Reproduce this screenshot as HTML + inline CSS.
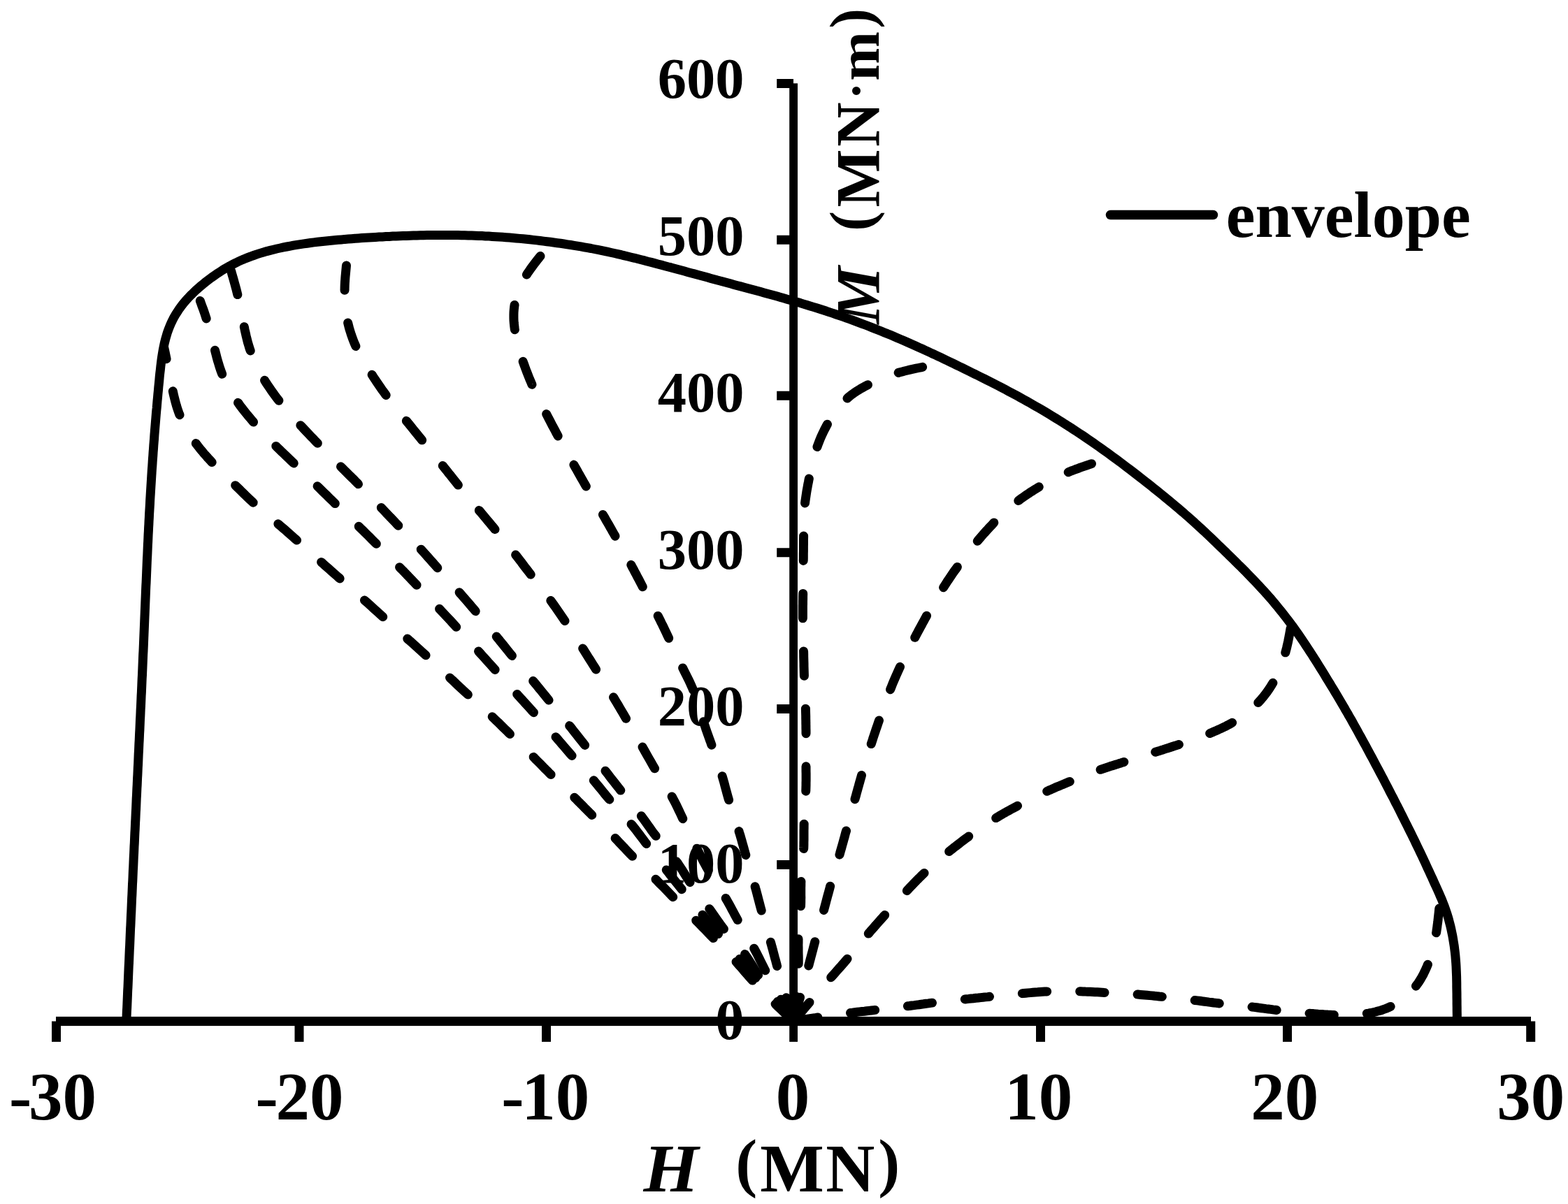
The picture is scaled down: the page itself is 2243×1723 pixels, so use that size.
<!DOCTYPE html>
<html lang="en"><head><meta charset="utf-8"><title>H-M envelope</title>
<style>
html,body{margin:0;padding:0;background:#fff;}
body{width:2243px;height:1723px;overflow:hidden;}
svg{display:block;}
</style></head><body>
<svg width="2243" height="1723" viewBox="0 0 2243 1723">
<rect width="2243" height="1723" fill="#fff"/>
<g font-family="'Liberation Serif', serif" font-weight="bold" fill="#000">
<text transform="translate(940.79 140.45) scale(1.0000 1.0120)" font-size="82.5">600</text>
<text transform="translate(940.79 364.93) scale(1.0000 1.0120)" font-size="82.5">500</text>
<text transform="translate(940.79 589.41) scale(1.0000 1.0120)" font-size="82.5">400</text>
<text transform="translate(940.79 813.89) scale(1.0000 1.0120)" font-size="82.5">300</text>
<text transform="translate(940.79 1038.37) scale(1.0000 1.0120)" font-size="82.5">200</text>
<text transform="translate(940.79 1262.85) scale(1.0000 1.0120)" font-size="82.5">100</text>
<text transform="translate(1023.29 1487.33) scale(1.0000 1.0120)" font-size="82.5">0</text>
<text x="13.05 40.99 89.49" y="1602.15" font-size="97">-30</text>
<text x="365.45 394.59 443.09" y="1602.15" font-size="97">-20</text>
<text x="717.35 746.29 794.79" y="1602.15" font-size="97">-10</text>
<text x="1109.79" y="1602.15" font-size="97">0</text>
<text x="1437.29" y="1602.15" font-size="97">10</text>
<text x="1789.19" y="1602.15" font-size="97">20</text>
<text x="2141.19" y="1602.15" font-size="97">30</text>
<text font-size="97"><tspan x="920.49" y="1705.40" font-style="italic" textLength="78.93" lengthAdjust="spacingAndGlyphs">H</tspan> <tspan x="1052.22" y="1694.50" font-size="93">(</tspan><tspan x="1087.34 1181.15" y="1705.40">MN</tspan><tspan x="1256.21" y="1694.50" font-size="93">)</tspan></text>
<text transform="translate(1257.1 0) rotate(-90)" font-size="88"><tspan x="-463.78" y="0" font-style="italic" textLength="82.30" lengthAdjust="spacingAndGlyphs">M</tspan> <tspan x="-330.84" y="-10.39" font-size="86.1">(</tspan><tspan x="-296.50 -209.98" y="0">MN</tspan><tspan x="-142.32" y="-6.94" font-size="74">·</tspan><tspan x="-115.72" y="0" font-size="85">m</tspan><tspan x="-40.83" y="-10.39" font-size="86.1">)</tspan></text>
<text x="1753.8" y="338.5" font-size="94">envelope</text>
</g>
<g fill="#000">
<rect x="80.00" y="1454.90" width="2110.00" height="13.20"/>
<rect x="1129.20" y="119.30" width="11.80" height="1371.60"/>
<rect x="74.00" y="1461.50" width="13.00" height="29.40"/>
<rect x="421.50" y="1461.50" width="13.00" height="29.40"/>
<rect x="775.00" y="1461.50" width="13.00" height="29.40"/>
<rect x="1482.00" y="1461.50" width="13.00" height="29.40"/>
<rect x="1835.00" y="1461.50" width="13.00" height="29.40"/>
<rect x="2183.20" y="1461.50" width="13.00" height="29.40"/>
<rect x="1111.20" y="113.00" width="23.80" height="13.00"/>
<rect x="1111.20" y="336.75" width="23.80" height="13.00"/>
<rect x="1111.20" y="559.75" width="23.80" height="13.00"/>
<rect x="1111.20" y="784.25" width="23.80" height="13.00"/>
<rect x="1111.20" y="1008.00" width="23.80" height="13.00"/>
<rect x="1111.20" y="1231.00" width="23.80" height="13.00"/>
</g>
<g fill="none" stroke="#000" stroke-width="13.00" stroke-linecap="round" stroke-linejoin="round">
<path stroke-dasharray="35.40 47.06" stroke-dashoffset="-0.31" d="M1135.0 1461.5 L1131.7 1458.4 L1128.5 1455.4 L1125.3 1452.3 L1122.0 1449.3 L1118.8 1446.2 L1115.5 1443.1 L1112.3 1440.0 L1109.1 1436.9 L1105.9 1433.8 L1102.8 1430.7 L1099.6 1427.6 L1096.4 1424.4 L1093.3 1421.2 L1090.2 1418.0 L1087.1 1414.8 L1084.1 1411.6 L1081.1 1408.3 L1078.1 1405.0 L1075.1 1401.7 L1072.2 1398.4 L1069.2 1395.0 L1066.3 1391.7 L1063.4 1388.3 L1060.5 1384.9 L1057.6 1381.6 L1054.6 1378.2 L1051.6 1374.9 L1048.6 1371.6 L1045.6 1368.4 L1042.5 1365.1 L1039.4 1361.9 L1036.3 1358.7 L1033.2 1355.6 L1030.1 1352.4 L1027.0 1349.2 L1023.8 1346.0 L1020.7 1342.9 L1017.6 1339.7 L1014.5 1336.5 L1011.4 1333.3 L1008.3 1330.1 L1005.2 1326.9 L1002.1 1323.7 L999.0 1320.5 L995.8 1317.3 L992.7 1314.1 L989.6 1311.0 L986.5 1307.8 L983.3 1304.6 L980.2 1301.5 L977.1 1298.3 L974.0 1295.1 L970.8 1291.9 L967.7 1288.8 L964.6 1285.6 L961.5 1282.4 L958.4 1279.2 L955.3 1276.0 L952.2 1272.8 L949.1 1269.6 L945.9 1266.4 L942.8 1263.3 L939.7 1260.1 L936.5 1256.9 L933.4 1253.8 L930.2 1250.7 L927.0 1247.5 L923.9 1244.4 L920.7 1241.3 L917.5 1238.2 L914.3 1235.1 L911.2 1231.9 L908.0 1228.8 L904.9 1225.6 L901.8 1222.4 L898.7 1219.2 L895.6 1216.0 L892.6 1212.7 L889.5 1209.5 L886.4 1206.3 L883.4 1203.0 L880.3 1199.8 L877.2 1196.6 L874.0 1193.5 L870.9 1190.3 L867.7 1187.2 L864.6 1184.0 L861.4 1180.9 L858.2 1177.8 L855.1 1174.6 L851.9 1171.5 L848.7 1168.4 L845.6 1165.2 L842.4 1162.1 L839.3 1158.9 L836.1 1155.8 L833.0 1152.6 L829.9 1149.4 L826.7 1146.3 L823.6 1143.1 L820.4 1140.0 L817.2 1136.9 L814.0 1133.8 L810.8 1130.7 L807.6 1127.6 L804.4 1124.5 L801.2 1121.4 L798.0 1118.3 L794.8 1115.2 L791.7 1112.1 L788.5 1108.9 L785.3 1105.8 L782.2 1102.6 L779.0 1099.5 L775.9 1096.3 L772.8 1093.1 L769.7 1090.0 L766.5 1086.8 L763.4 1083.6 L760.2 1080.5 L757.0 1077.4 L753.9 1074.2 L750.7 1071.1 L747.5 1068.0 L744.3 1064.9 L741.1 1061.8 L737.9 1058.7 L734.7 1055.6 L731.5 1052.5 L728.4 1049.4 L725.2 1046.2 L722.0 1043.1 L718.8 1040.0 L715.7 1036.9 L712.5 1033.7 L709.3 1030.7 L706.1 1027.6 L702.8 1024.5 L699.6 1021.5 L696.3 1018.5 L693.0 1015.5 L689.7 1012.5 L686.4 1009.5 L683.1 1006.5 L679.8 1003.5 L676.5 1000.5 L673.2 997.5 L669.9 994.5 L666.6 991.5 L663.3 988.5 L660.1 985.5 L656.8 982.4 L653.6 979.4 L650.3 976.3 L647.1 973.2 L643.8 970.2 L640.6 967.1 L637.4 964.1 L634.1 961.0 L630.9 958.0 L627.6 954.9 L624.3 951.9 L621.1 948.9 L617.8 945.9 L614.5 942.8 L611.2 939.8 L608.0 936.8 L604.7 933.8 L601.4 930.8 L598.1 927.8 L594.8 924.8 L591.5 921.8 L588.2 918.8 L584.8 915.9 L581.5 912.9 L578.2 909.9 L574.9 906.9 L571.6 904.0 L568.3 901.0 L564.9 898.0 L561.6 895.1 L558.3 892.1 L555.0 889.1 L551.7 886.2 L548.3 883.2 L545.0 880.2 L541.7 877.2 L538.4 874.2 L535.1 871.3 L531.8 868.3 L528.5 865.3 L525.2 862.3 L521.8 859.3 L518.5 856.4 L515.2 853.4 L511.8 850.5 L508.5 847.5 L505.2 844.6 L501.8 841.6 L498.5 838.7 L495.1 835.8 L491.8 832.8 L488.4 829.9 L485.1 827.0 L481.7 824.0 L478.4 821.1 L475.0 818.1 L471.7 815.2 L468.3 812.2 L465.0 809.3 L461.7 806.3 L458.3 803.4 L455.0 800.4 L451.7 797.4 L448.4 794.4 L445.1 791.5 L441.8 788.5 L438.5 785.5 L435.1 782.5 L431.8 779.6 L428.5 776.6 L425.2 773.6 L421.8 770.7 L418.5 767.7 L415.2 764.8 L411.8 761.8 L408.5 758.9 L405.1 756.0 L401.7 753.1 L398.3 750.2 L394.9 747.3 L391.5 744.4 L388.1 741.6 L384.7 738.7 L381.3 735.8 L377.9 733.0 L374.5 730.1 L371.1 727.2 L367.8 724.2 L364.5 721.3 L361.2 718.3 L357.9 715.2 L354.7 712.2 L351.5 709.1 L348.3 706.0 L345.1 702.9 L341.9 699.7 L338.7 696.6 L335.5 693.5 L332.3 690.4 L329.1 687.3 L325.9 684.2 L322.7 681.1 L319.5 678.0 L316.3 674.9 L313.2 671.7 L310.0 668.6 L306.9 665.4 L303.8 662.2 L300.8 658.9 L297.7 655.6 L294.8 652.3 L291.8 649.0 L289.0 645.5 L286.1 642.1 L283.4 638.6 L280.6 635.0 L278.0 631.4 L275.4 627.8 L272.9 624.1 L270.5 620.3 L268.2 616.5 L266.0 612.7 L263.9 608.8 L261.9 604.8 L260.0 600.8 L258.2 596.7 L256.5 592.6 L255.0 588.4 L253.6 584.2 L252.3 580.0 L251.1 575.7 L250.0 571.4 L248.9 567.0 L247.9 562.7 L247.0 558.3 L246.1 554.0 L245.2 549.6 L244.3 545.2 L243.4 540.8 L242.6 536.4 L241.8 532.1 L240.9 527.7 L240.1 523.3 L239.2 518.9 L238.3 514.6 L237.4 510.2 L236.5 505.8 L235.6 501.5 L234.8 498.0"/>
<path stroke-dasharray="35.40 47.13" stroke-dashoffset="0.20" d="M1135.0 1461.5 L1132.0 1458.1 L1129.1 1454.7 L1126.1 1451.3 L1123.2 1447.9 L1120.2 1444.5 L1117.3 1441.1 L1114.3 1437.7 L1111.4 1434.3 L1108.4 1431.0 L1105.5 1427.6 L1102.5 1424.2 L1099.6 1420.8 L1096.7 1417.4 L1093.7 1414.0 L1090.8 1410.6 L1087.8 1407.2 L1084.9 1403.8 L1082.0 1400.3 L1079.0 1396.9 L1076.1 1393.5 L1073.2 1390.1 L1070.2 1386.7 L1067.3 1383.3 L1064.4 1379.9 L1061.4 1376.5 L1058.5 1373.1 L1055.6 1369.6 L1052.7 1366.2 L1049.8 1362.8 L1046.9 1359.4 L1044.0 1355.9 L1041.1 1352.5 L1038.2 1349.1 L1035.3 1345.6 L1032.4 1342.2 L1029.5 1338.8 L1026.6 1335.3 L1023.7 1331.9 L1020.8 1328.4 L1017.9 1325.0 L1015.1 1321.5 L1012.2 1318.1 L1009.3 1314.6 L1006.5 1311.1 L1003.6 1307.7 L1000.8 1304.2 L997.9 1300.7 L995.1 1297.2 L992.2 1293.8 L989.4 1290.3 L986.6 1286.8 L983.7 1283.3 L980.9 1279.8 L978.1 1276.3 L975.3 1272.8 L972.5 1269.3 L969.7 1265.8 L966.9 1262.2 L964.1 1258.7 L961.3 1255.2 L958.6 1251.7 L955.8 1248.1 L953.0 1244.6 L950.3 1241.0 L947.5 1237.5 L944.8 1233.9 L942.0 1230.4 L939.3 1226.8 L936.6 1223.2 L933.8 1219.7 L931.1 1216.1 L928.4 1212.5 L925.7 1208.9 L923.0 1205.3 L920.3 1201.7 L917.6 1198.1 L914.9 1194.5 L912.2 1191.0 L909.5 1187.4 L906.7 1183.9 L903.9 1180.4 L901.0 1177.0 L898.1 1173.6 L895.1 1170.2 L892.1 1166.8 L889.1 1163.5 L886.1 1160.2 L883.1 1156.9 L880.1 1153.5 L877.1 1150.2 L874.1 1146.8 L871.2 1143.4 L868.3 1140.0 L865.4 1136.5 L862.6 1133.0 L859.8 1129.5 L856.9 1126.0 L854.1 1122.6 L851.2 1119.1 L848.3 1115.7 L845.4 1112.2 L842.5 1108.8 L839.5 1105.5 L836.5 1102.1 L833.5 1098.8 L830.5 1095.4 L827.5 1092.1 L824.5 1088.7 L821.6 1085.4 L818.6 1082.0 L815.6 1078.6 L812.7 1075.2 L809.7 1071.8 L806.8 1068.4 L803.9 1065.0 L801.0 1061.6 L798.1 1058.2 L795.1 1054.8 L792.2 1051.4 L789.2 1048.0 L786.2 1044.7 L783.2 1041.3 L780.2 1038.0 L777.2 1034.7 L774.2 1031.3 L771.1 1028.0 L768.1 1024.7 L765.1 1021.4 L762.0 1018.1 L759.0 1014.7 L756.0 1011.4 L753.0 1008.1 L749.9 1004.8 L746.9 1001.4 L743.9 998.1 L740.9 994.8 L737.9 991.5 L734.9 988.1 L731.9 984.8 L728.8 981.4 L725.8 978.1 L722.8 974.8 L719.8 971.4 L716.8 968.1 L713.8 964.7 L710.8 961.4 L707.8 958.0 L704.8 954.7 L701.8 951.3 L698.8 948.0 L695.8 944.7 L692.8 941.3 L689.8 938.0 L686.8 934.6 L683.8 931.3 L680.8 928.0 L677.8 924.6 L674.8 921.3 L671.7 918.0 L668.7 914.7 L665.7 911.3 L662.6 908.0 L659.6 904.7 L656.6 901.4 L653.5 898.1 L650.5 894.8 L647.4 891.5 L644.4 888.2 L641.3 884.9 L638.2 881.6 L635.2 878.4 L632.1 875.1 L629.0 871.8 L625.9 868.6 L622.8 865.3 L619.7 862.0 L616.6 858.8 L613.5 855.5 L610.4 852.3 L607.3 849.0 L604.2 845.8 L601.1 842.5 L598.0 839.3 L594.9 836.0 L591.8 832.8 L588.7 829.5 L585.6 826.3 L582.5 823.0 L579.4 819.8 L576.3 816.5 L573.1 813.3 L570.0 810.1 L566.9 806.9 L563.7 803.7 L560.6 800.5 L557.4 797.3 L554.2 794.1 L551.0 790.9 L547.9 787.8 L544.7 784.6 L541.5 781.4 L538.3 778.2 L535.1 775.1 L532.0 771.9 L528.8 768.7 L525.6 765.5 L522.4 762.4 L519.2 759.2 L516.0 756.1 L512.8 752.9 L509.6 749.8 L506.4 746.6 L503.2 743.5 L499.9 740.4 L496.7 737.3 L493.5 734.1 L490.2 731.0 L487.0 727.9 L483.8 724.8 L480.5 721.7 L477.3 718.5 L474.1 715.4 L470.9 712.3 L467.7 709.1 L464.4 706.0 L461.2 702.8 L458.0 699.7 L454.8 696.5 L451.6 693.4 L448.4 690.3 L445.2 687.1 L442.0 684.0 L438.8 680.8 L435.5 677.7 L432.3 674.6 L429.1 671.4 L425.9 668.3 L422.6 665.2 L419.4 662.1 L416.1 659.0 L412.9 655.9 L409.6 652.8 L406.4 649.7 L403.1 646.6 L399.9 643.4 L396.7 640.3 L393.5 637.1 L390.3 633.9 L387.2 630.7 L384.1 627.5 L381.0 624.3 L377.9 621.0 L374.8 617.7 L371.8 614.4 L368.8 611.0 L365.8 607.7 L362.8 604.3 L359.9 600.9 L357.0 597.4 L354.1 594.0 L351.3 590.5 L348.5 586.9 L345.7 583.4 L343.0 579.8 L340.4 576.1 L337.8 572.4 L335.3 568.7 L332.9 564.9 L330.5 561.1 L328.3 557.2 L326.1 553.3 L324.0 549.3 L322.0 545.3 L320.2 541.2 L318.4 537.1 L316.8 532.9 L315.3 528.7 L313.9 524.4 L312.6 520.2 L311.3 515.8 L310.1 511.5 L309.0 507.2 L307.9 502.8 L306.8 498.4 L305.7 494.1 L304.6 489.7 L303.5 485.3 L302.4 481.0 L301.2 476.6 L300.0 472.3 L298.8 467.9 L297.6 463.6 L296.3 459.3 L294.9 455.1 L293.5 450.8 L292.1 446.5 L290.6 442.3 L289.0 438.1 L287.5 433.9 L286.3 430.5"/>
<path stroke-dasharray="35.40 47.09" stroke-dashoffset="-0.67" d="M1135.0 1461.5 L1132.1 1458.0 L1129.2 1454.5 L1126.2 1451.0 L1123.3 1447.4 L1120.4 1443.9 L1117.6 1440.4 L1114.7 1436.8 L1111.9 1433.3 L1109.0 1429.7 L1106.3 1426.1 L1103.5 1422.5 L1100.8 1418.8 L1098.1 1415.2 L1095.4 1411.5 L1092.8 1407.8 L1090.2 1404.0 L1087.7 1400.3 L1085.2 1396.5 L1082.8 1392.6 L1080.4 1388.8 L1078.1 1384.9 L1075.7 1381.0 L1073.3 1377.2 L1070.9 1373.3 L1068.4 1369.6 L1065.8 1365.9 L1063.1 1362.2 L1060.3 1358.7 L1057.4 1355.2 L1054.5 1351.7 L1051.5 1348.3 L1048.5 1344.9 L1045.5 1341.5 L1042.5 1338.0 L1039.6 1334.6 L1036.7 1331.1 L1033.9 1327.5 L1031.2 1323.9 L1028.5 1320.2 L1025.9 1316.5 L1023.3 1312.7 L1020.7 1309.0 L1018.1 1305.3 L1015.5 1301.6 L1012.9 1297.9 L1010.2 1294.2 L1007.4 1290.6 L1004.7 1286.9 L1002.0 1283.3 L999.2 1279.7 L996.5 1276.0 L993.8 1272.4 L991.2 1268.7 L988.6 1264.9 L986.1 1261.2 L983.6 1257.4 L981.2 1253.5 L978.8 1249.7 L976.4 1245.8 L973.9 1242.0 L971.4 1238.2 L968.9 1234.5 L966.2 1230.8 L963.5 1227.2 L960.7 1223.7 L957.8 1220.1 L954.9 1216.7 L952.0 1213.2 L949.0 1209.7 L946.1 1206.2 L943.2 1202.7 L940.4 1199.2 L937.6 1195.6 L934.8 1192.0 L932.1 1188.3 L929.5 1184.6 L926.9 1180.9 L924.2 1177.2 L921.6 1173.5 L918.9 1169.8 L916.2 1166.2 L913.4 1162.6 L910.6 1159.0 L907.8 1155.5 L904.9 1151.9 L902.0 1148.4 L899.1 1144.9 L896.2 1141.4 L893.3 1137.9 L890.5 1134.4 L887.6 1130.8 L884.8 1127.3 L881.9 1123.7 L879.1 1120.1 L876.3 1116.5 L873.5 1112.9 L870.8 1109.3 L868.0 1105.8 L865.2 1102.2 L862.4 1098.6 L859.5 1095.0 L856.7 1091.5 L853.9 1087.9 L851.0 1084.4 L848.2 1080.8 L845.3 1077.3 L842.5 1073.7 L839.6 1070.1 L836.8 1066.6 L834.0 1063.0 L831.2 1059.5 L828.3 1055.9 L825.5 1052.3 L822.7 1048.7 L819.9 1045.2 L817.1 1041.6 L814.2 1038.0 L811.4 1034.5 L808.5 1030.9 L805.7 1027.4 L802.8 1023.8 L800.0 1020.3 L797.1 1016.8 L794.2 1013.2 L791.4 1009.7 L788.5 1006.2 L785.6 1002.7 L782.7 999.1 L779.9 995.6 L777.0 992.1 L774.1 988.5 L771.2 985.0 L768.4 981.5 L765.5 978.0 L762.6 974.5 L759.6 971.0 L756.7 967.5 L753.8 964.0 L750.9 960.5 L747.9 957.1 L745.0 953.6 L742.1 950.1 L739.2 946.6 L736.3 943.1 L733.4 939.6 L730.5 936.1 L727.6 932.5 L724.8 929.0 L721.9 925.4 L719.1 921.9 L716.2 918.4 L713.4 914.8 L710.5 911.3 L707.6 907.7 L704.8 904.2 L701.9 900.7 L699.0 897.2 L696.1 893.6 L693.2 890.1 L690.3 886.6 L687.4 883.1 L684.5 879.7 L681.5 876.2 L678.6 872.7 L675.6 869.2 L672.7 865.8 L669.7 862.3 L666.8 858.9 L663.8 855.4 L660.8 852.0 L657.8 848.6 L654.8 845.1 L651.8 841.7 L648.8 838.3 L645.8 834.9 L642.7 831.5 L639.7 828.1 L636.6 824.8 L633.6 821.4 L630.6 818.0 L627.6 814.6 L624.5 811.2 L621.5 807.8 L618.5 804.4 L615.5 801.0 L612.5 797.6 L609.4 794.2 L606.4 790.8 L603.3 787.4 L600.3 784.1 L597.2 780.7 L594.0 777.4 L590.9 774.1 L587.8 770.8 L584.6 767.5 L581.5 764.2 L578.3 761.0 L575.2 757.7 L572.0 754.4 L568.8 751.2 L565.7 747.9 L562.5 744.6 L559.4 741.3 L556.2 738.0 L553.1 734.7 L550.0 731.4 L546.8 728.1 L543.7 724.8 L540.5 721.5 L537.4 718.3 L534.2 715.0 L531.1 711.7 L527.9 708.4 L524.8 705.1 L521.6 701.9 L518.4 698.6 L515.2 695.4 L512.0 692.2 L508.8 688.9 L505.6 685.7 L502.3 682.5 L499.1 679.3 L495.9 676.1 L492.6 672.9 L489.4 669.7 L486.2 666.5 L482.9 663.3 L479.7 660.1 L476.5 656.9 L473.3 653.7 L470.1 650.4 L466.9 647.2 L463.7 643.9 L460.5 640.7 L457.3 637.4 L454.2 634.2 L451.0 630.9 L447.8 627.6 L444.7 624.4 L441.5 621.1 L438.4 617.8 L435.3 614.5 L432.2 611.1 L429.0 607.8 L425.9 604.5 L422.9 601.1 L419.8 597.8 L416.8 594.4 L413.7 591.0 L410.8 587.5 L407.8 584.1 L404.9 580.6 L402.0 577.1 L399.1 573.5 L396.3 569.9 L393.6 566.3 L390.9 562.6 L388.2 558.9 L385.7 555.2 L383.1 551.4 L380.6 547.6 L378.2 543.7 L375.9 539.8 L373.6 535.8 L371.4 531.8 L369.3 527.8 L367.2 523.7 L365.3 519.6 L363.4 515.5 L361.7 511.3 L360.0 507.1 L358.5 502.8 L357.0 498.5 L355.7 494.2 L354.4 489.8 L353.3 485.4 L352.2 481.0 L351.2 476.5 L350.2 472.1 L349.3 467.6 L348.4 463.2 L347.5 458.7 L346.6 454.2 L345.8 449.7 L344.9 445.3 L344.0 440.8 L343.1 436.3 L342.2 431.9 L341.2 427.4 L340.2 423.0 L339.1 418.6 L338.0 414.2 L336.8 409.8 L335.6 405.4 L334.4 401.0 L333.2 396.7 L331.9 392.3 L330.7 387.9 L329.5 383.5 L328.5 380.0"/>
<path stroke-dasharray="35.40 47.05" stroke-dashoffset="-0.65" d="M1135.0 1461.5 L1132.9 1457.8 L1130.8 1454.1 L1128.6 1450.5 L1126.5 1446.8 L1124.4 1443.1 L1122.3 1439.4 L1120.2 1435.7 L1118.1 1432.0 L1116.0 1428.3 L1113.9 1424.6 L1111.9 1420.9 L1109.8 1417.2 L1107.8 1413.5 L1105.8 1409.7 L1103.7 1406.0 L1101.7 1402.2 L1099.8 1398.5 L1097.8 1394.7 L1095.9 1391.0 L1093.9 1387.2 L1092.0 1383.4 L1090.1 1379.6 L1088.2 1375.8 L1086.3 1372.0 L1084.4 1368.2 L1082.5 1364.4 L1080.5 1360.7 L1078.5 1356.9 L1076.5 1353.2 L1074.4 1349.5 L1072.3 1345.8 L1070.1 1342.2 L1068.0 1338.5 L1065.8 1334.9 L1063.7 1331.2 L1061.5 1327.6 L1059.4 1323.9 L1057.2 1320.2 L1055.2 1316.5 L1053.1 1312.8 L1051.1 1309.1 L1049.1 1305.3 L1047.1 1301.6 L1045.1 1297.8 L1043.1 1294.1 L1041.0 1290.4 L1038.9 1286.7 L1036.8 1283.1 L1034.6 1279.4 L1032.4 1275.8 L1030.1 1272.2 L1027.8 1268.7 L1025.5 1265.1 L1023.2 1261.5 L1020.9 1258.0 L1018.7 1254.4 L1016.4 1250.8 L1014.2 1247.1 L1012.1 1243.5 L1010.0 1239.8 L1008.0 1236.0 L1006.0 1232.3 L1004.1 1228.5 L1002.1 1224.8 L1000.2 1221.0 L998.4 1217.1 L996.5 1213.3 L994.6 1209.5 L992.8 1205.7 L990.9 1201.9 L989.1 1198.0 L987.3 1194.2 L985.5 1190.3 L983.7 1186.5 L981.8 1182.7 L980.0 1178.8 L978.2 1175.0 L976.5 1171.1 L974.7 1167.3 L972.9 1163.4 L971.1 1159.6 L969.2 1155.7 L967.4 1151.9 L965.5 1148.1 L963.5 1144.4 L961.5 1140.6 L959.5 1136.9 L957.4 1133.3 L955.2 1129.6 L953.0 1126.0 L950.8 1122.4 L948.5 1118.8 L946.2 1115.2 L944.0 1111.6 L941.7 1108.0 L939.5 1104.4 L937.2 1100.8 L935.0 1097.2 L932.9 1093.5 L930.8 1089.8 L928.7 1086.1 L926.6 1082.5 L924.5 1078.8 L922.4 1075.0 L920.3 1071.3 L918.2 1067.6 L916.1 1063.9 L914.1 1060.3 L911.9 1056.6 L909.8 1052.9 L907.7 1049.2 L905.6 1045.5 L903.5 1041.9 L901.3 1038.2 L899.2 1034.5 L897.1 1030.8 L894.9 1027.2 L892.8 1023.5 L890.6 1019.8 L888.5 1016.2 L886.3 1012.5 L884.2 1008.9 L882.0 1005.2 L879.8 1001.6 L877.6 997.9 L875.4 994.3 L873.2 990.7 L871.0 987.1 L868.7 983.5 L866.4 979.9 L864.2 976.3 L861.9 972.7 L859.6 969.1 L857.4 965.5 L855.1 961.9 L852.8 958.3 L850.6 954.8 L848.3 951.2 L846.0 947.6 L843.8 944.0 L841.5 940.4 L839.3 936.8 L837.0 933.2 L834.7 929.6 L832.4 926.0 L830.2 922.4 L827.9 918.9 L825.6 915.3 L823.2 911.7 L820.9 908.2 L818.6 904.6 L816.3 901.1 L813.9 897.5 L811.6 894.0 L809.2 890.5 L806.9 886.9 L804.5 883.4 L802.1 879.9 L799.7 876.4 L797.3 872.9 L794.9 869.4 L792.4 865.9 L790.0 862.5 L787.5 859.0 L785.0 855.6 L782.4 852.2 L779.9 848.8 L777.3 845.5 L774.7 842.1 L772.1 838.7 L769.5 835.4 L766.9 832.0 L764.3 828.7 L761.7 825.3 L759.1 822.0 L756.5 818.6 L753.9 815.2 L751.3 811.9 L748.7 808.5 L746.2 805.1 L743.6 801.8 L741.0 798.4 L738.4 795.0 L735.7 791.7 L733.1 788.4 L730.5 785.0 L727.8 781.7 L725.2 778.4 L722.5 775.1 L719.8 771.8 L717.1 768.5 L714.4 765.3 L711.7 762.0 L709.0 758.7 L706.3 755.4 L703.6 752.2 L700.9 748.9 L698.2 745.7 L695.4 742.4 L692.7 739.1 L690.0 735.9 L687.3 732.6 L684.5 729.4 L681.8 726.1 L679.1 722.9 L676.4 719.6 L673.6 716.3 L670.9 713.1 L668.2 709.8 L665.5 706.5 L662.8 703.2 L660.1 699.9 L657.5 696.7 L654.8 693.4 L652.1 690.0 L649.5 686.7 L646.8 683.4 L644.2 680.1 L641.5 676.8 L638.9 673.4 L636.2 670.1 L633.6 666.8 L630.9 663.5 L628.3 660.2 L625.6 656.9 L622.9 653.6 L620.3 650.3 L617.6 647.0 L614.9 643.7 L612.2 640.4 L609.6 637.1 L606.9 633.8 L604.2 630.5 L601.5 627.2 L598.9 623.9 L596.2 620.6 L593.5 617.3 L590.8 614.0 L588.2 610.7 L585.5 607.4 L582.8 604.1 L580.1 600.8 L577.4 597.5 L574.8 594.2 L572.1 590.9 L569.4 587.6 L566.8 584.3 L564.1 581.0 L561.5 577.7 L558.9 574.3 L556.3 570.9 L553.7 567.6 L551.2 564.1 L548.7 560.7 L546.2 557.3 L543.8 553.8 L541.4 550.3 L539.0 546.8 L536.6 543.2 L534.3 539.7 L532.0 536.1 L529.7 532.5 L527.4 528.9 L525.1 525.3 L522.9 521.7 L520.7 518.0 L518.6 514.3 L516.5 510.6 L514.5 506.9 L512.6 503.1 L510.7 499.3 L508.9 495.5 L507.2 491.6 L505.6 487.6 L504.1 483.7 L502.7 479.7 L501.4 475.6 L500.1 471.6 L499.0 467.5 L498.0 463.4 L497.0 459.2 L496.2 455.1 L495.5 450.9 L494.9 446.7 L494.3 442.5 L493.9 438.3 L493.5 434.0 L493.3 429.8 L493.1 425.5 L493.0 421.3 L493.0 417.0 L493.1 412.8 L493.2 408.5 L493.4 404.3 L493.7 400.1 L494.0 395.8 L494.4 391.6 L494.8 387.3 L495.2 383.1 L495.5 379.7"/>
<path stroke-dasharray="35.40 47.11" stroke-dashoffset="0.08" d="M1135.0 1461.5 L1133.8 1457.7 L1132.7 1453.9 L1131.5 1450.1 L1130.4 1446.3 L1129.2 1442.6 L1128.0 1438.8 L1126.9 1435.0 L1125.7 1431.2 L1124.6 1427.4 L1123.5 1423.6 L1122.3 1419.8 L1121.2 1416.0 L1120.1 1412.2 L1119.0 1408.4 L1117.9 1404.6 L1116.8 1400.8 L1115.7 1397.0 L1114.6 1393.2 L1113.5 1389.3 L1112.5 1385.5 L1111.4 1381.7 L1110.4 1377.9 L1109.4 1374.0 L1108.3 1370.2 L1107.3 1366.4 L1106.3 1362.6 L1105.3 1358.7 L1104.2 1354.9 L1103.2 1351.1 L1102.1 1347.3 L1101.0 1343.5 L1099.9 1339.7 L1098.8 1335.9 L1097.6 1332.1 L1096.5 1328.3 L1095.4 1324.5 L1094.3 1320.7 L1093.1 1316.9 L1092.0 1313.1 L1090.9 1309.3 L1089.9 1305.5 L1088.8 1301.6 L1087.8 1297.8 L1086.8 1294.0 L1085.8 1290.1 L1084.8 1286.3 L1083.8 1282.5 L1082.8 1278.7 L1081.8 1274.8 L1080.7 1271.0 L1079.7 1267.2 L1078.6 1263.4 L1077.5 1259.6 L1076.4 1255.8 L1075.3 1252.0 L1074.1 1248.2 L1073.0 1244.4 L1071.8 1240.6 L1070.7 1236.8 L1069.6 1233.0 L1068.4 1229.2 L1067.3 1225.4 L1066.2 1221.6 L1065.1 1217.8 L1064.1 1214.0 L1063.0 1210.1 L1061.9 1206.3 L1060.9 1202.5 L1059.8 1198.7 L1058.7 1194.9 L1057.5 1191.1 L1056.4 1187.3 L1055.2 1183.6 L1053.9 1179.8 L1052.7 1176.0 L1051.4 1172.3 L1050.2 1168.5 L1048.9 1164.7 L1047.7 1161.0 L1046.5 1157.2 L1045.2 1153.5 L1044.1 1149.7 L1042.9 1145.9 L1041.8 1142.1 L1040.7 1138.3 L1039.7 1134.5 L1038.6 1130.6 L1037.6 1126.8 L1036.6 1123.0 L1035.6 1119.2 L1034.5 1115.4 L1033.4 1111.6 L1032.3 1107.8 L1031.1 1104.0 L1029.9 1100.2 L1028.7 1096.4 L1027.4 1092.7 L1026.1 1088.9 L1024.8 1085.2 L1023.5 1081.5 L1022.2 1077.7 L1020.8 1074.0 L1019.5 1070.3 L1018.1 1066.6 L1016.8 1062.8 L1015.4 1059.1 L1014.1 1055.4 L1012.7 1051.6 L1011.4 1047.9 L1010.1 1044.2 L1008.9 1040.4 L1007.6 1036.6 L1006.4 1032.9 L1005.2 1029.1 L1004.1 1025.3 L1002.9 1021.5 L1001.8 1017.7 L1000.6 1013.9 L999.5 1010.1 L998.3 1006.3 L997.1 1002.6 L995.8 998.8 L994.5 995.1 L993.2 991.4 L991.7 987.7 L990.2 984.1 L988.6 980.5 L987.0 976.9 L985.3 973.3 L983.5 969.8 L981.8 966.2 L980.0 962.7 L978.2 959.1 L976.5 955.6 L974.7 952.0 L973.0 948.5 L971.3 944.9 L969.6 941.3 L967.9 937.7 L966.3 934.1 L964.6 930.5 L963.0 926.9 L961.3 923.3 L959.6 919.7 L958.0 916.1 L956.3 912.5 L954.6 908.9 L952.9 905.3 L951.2 901.7 L949.5 898.2 L947.8 894.6 L946.0 891.1 L944.3 887.5 L942.5 884.0 L940.7 880.4 L938.9 876.9 L937.1 873.4 L935.3 869.9 L933.4 866.4 L931.6 862.9 L929.7 859.4 L927.9 855.9 L926.0 852.4 L924.1 848.9 L922.3 845.4 L920.4 841.9 L918.6 838.4 L916.7 834.8 L914.9 831.3 L913.1 827.8 L911.2 824.3 L909.4 820.8 L907.5 817.3 L905.7 813.8 L903.8 810.3 L902.0 806.8 L900.1 803.3 L898.2 799.8 L896.3 796.4 L894.4 792.9 L892.4 789.4 L890.5 786.0 L888.6 782.5 L886.6 779.1 L884.7 775.6 L882.7 772.2 L880.8 768.7 L878.9 765.2 L876.9 761.8 L875.0 758.3 L873.0 754.9 L871.1 751.4 L869.1 748.0 L867.1 744.6 L865.2 741.1 L863.2 737.7 L861.2 734.3 L859.2 730.9 L857.1 727.5 L855.1 724.0 L853.1 720.6 L851.1 717.2 L849.0 713.8 L847.0 710.4 L845.0 707.0 L842.9 703.6 L840.9 700.2 L838.9 696.8 L836.9 693.4 L834.9 689.9 L833.0 686.5 L831.0 683.1 L829.1 679.6 L827.1 676.2 L825.2 672.7 L823.2 669.2 L821.3 665.8 L819.4 662.3 L817.4 658.9 L815.5 655.4 L813.6 652.0 L811.6 648.5 L809.7 645.0 L807.8 641.6 L805.9 638.1 L804.0 634.6 L802.1 631.1 L800.2 627.7 L798.3 624.2 L796.4 620.7 L794.6 617.2 L792.7 613.7 L790.8 610.2 L789.0 606.7 L787.2 603.2 L785.3 599.7 L783.5 596.1 L781.7 592.6 L779.9 589.1 L778.0 585.6 L776.2 582.0 L774.4 578.5 L772.7 575.0 L770.9 571.4 L769.2 567.9 L767.4 564.3 L765.7 560.7 L764.1 557.1 L762.4 553.5 L760.8 549.9 L759.3 546.3 L757.7 542.6 L756.2 538.9 L754.8 535.2 L753.3 531.5 L751.9 527.8 L750.6 524.1 L749.2 520.4 L747.9 516.6 L746.6 512.8 L745.4 509.0 L744.2 505.2 L743.0 501.4 L742.0 497.6 L740.9 493.8 L739.9 489.9 L739.0 486.0 L738.2 482.1 L737.4 478.2 L736.8 474.3 L736.2 470.4 L735.7 466.4 L735.3 462.5 L735.0 458.5 L734.9 454.6 L734.9 450.6 L735.0 446.7 L735.3 442.8 L735.7 438.9 L736.3 435.0 L737.0 431.1 L738.0 427.3 L739.0 423.5 L740.3 419.8 L741.6 416.0 L743.1 412.4 L744.7 408.8 L746.4 405.2 L748.3 401.6 L750.2 398.2 L752.3 394.8 L754.4 391.4 L756.7 388.1 L759.0 384.8 L761.3 381.6 L763.7 378.4 L766.1 375.3 L768.6 372.1 L771.0 369.0 L773.0 366.5"/>
<path stroke-dasharray="35.40 47.07" stroke-dashoffset="-0.24" d="M1135.0 1461.5 L1135.4 1458.1 L1135.9 1454.7 L1136.3 1451.3 L1136.8 1447.9 L1137.2 1444.5 L1137.6 1441.1 L1138.0 1437.7 L1138.4 1434.3 L1138.8 1430.9 L1139.2 1427.5 L1139.5 1424.1 L1139.9 1420.6 L1140.2 1417.2 L1140.5 1413.8 L1140.8 1410.4 L1141.1 1407.0 L1141.3 1403.6 L1141.5 1400.2 L1141.7 1396.8 L1141.9 1393.4 L1142.0 1390.0 L1142.1 1386.6 L1142.2 1383.1 L1142.2 1379.7 L1142.2 1376.3 L1142.2 1372.9 L1142.2 1369.5 L1142.1 1366.1 L1142.0 1362.7 L1142.0 1359.2 L1142.0 1355.8 L1141.9 1352.4 L1142.0 1349.0 L1142.0 1345.6 L1142.1 1342.2 L1142.3 1338.8 L1142.5 1335.4 L1142.8 1332.0 L1143.0 1328.6 L1143.3 1325.2 L1143.6 1321.7 L1144.0 1318.3 L1144.3 1314.9 L1144.6 1311.5 L1144.9 1308.1 L1145.1 1304.7 L1145.3 1301.3 L1145.5 1297.9 L1145.6 1294.5 L1145.7 1291.1 L1145.7 1287.7 L1145.8 1284.3 L1145.7 1280.9 L1145.7 1277.4 L1145.7 1274.0 L1145.7 1270.6 L1145.8 1267.2 L1145.8 1263.8 L1146.0 1260.4 L1146.1 1257.0 L1146.4 1253.6 L1146.6 1250.2 L1146.9 1246.8 L1147.2 1243.4 L1147.5 1240.0 L1147.9 1236.6 L1148.2 1233.2 L1148.5 1229.8 L1148.8 1226.4 L1149.1 1223.0 L1149.4 1219.6 L1149.6 1216.2 L1149.8 1212.8 L1149.9 1209.3 L1149.9 1205.9 L1150.0 1202.5 L1150.0 1199.1 L1150.0 1195.7 L1150.0 1192.3 L1150.0 1188.9 L1150.1 1185.4 L1150.1 1182.0 L1150.2 1178.6 L1150.3 1175.2 L1150.5 1171.8 L1150.6 1168.4 L1150.8 1165.0 L1151.0 1161.5 L1151.3 1158.1 L1151.5 1154.7 L1151.7 1151.3 L1151.9 1147.9 L1152.2 1144.5 L1152.4 1141.1 L1152.5 1137.6 L1152.7 1134.2 L1152.8 1130.8 L1152.9 1127.4 L1153.0 1124.0 L1153.0 1120.6 L1153.1 1117.1 L1153.1 1113.7 L1153.1 1110.3 L1153.1 1106.9 L1153.0 1103.5 L1153.0 1100.0 L1153.0 1096.6 L1153.0 1093.2 L1153.0 1089.8 L1153.0 1086.4 L1153.0 1082.9 L1153.0 1079.5 L1153.0 1076.1 L1153.0 1072.7 L1153.0 1069.2 L1153.0 1065.8 L1153.0 1062.4 L1153.0 1059.0 L1153.0 1055.6 L1153.0 1052.1 L1153.0 1048.7 L1153.0 1045.3 L1152.9 1041.9 L1152.9 1038.5 L1152.8 1035.0 L1152.8 1031.6 L1152.7 1028.2 L1152.7 1024.8 L1152.6 1021.4 L1152.5 1017.9 L1152.4 1014.5 L1152.3 1011.1 L1152.1 1007.7 L1152.0 1004.3 L1151.8 1000.8 L1151.7 997.4 L1151.5 994.0 L1151.4 990.6 L1151.2 987.2 L1151.1 983.7 L1150.9 980.3 L1150.8 976.9 L1150.6 973.5 L1150.5 970.1 L1150.4 966.7 L1150.3 963.2 L1150.2 959.8 L1150.1 956.4 L1150.0 953.0 L1150.0 949.6 L1149.9 946.1 L1149.8 942.7 L1149.7 939.3 L1149.7 935.9 L1149.6 932.5 L1149.5 929.0 L1149.4 925.6 L1149.3 922.2 L1149.2 918.8 L1149.1 915.4 L1149.0 911.9 L1148.9 908.5 L1148.8 905.1 L1148.7 901.7 L1148.6 898.3 L1148.5 894.8 L1148.5 891.4 L1148.4 888.0 L1148.4 884.6 L1148.4 881.2 L1148.4 877.7 L1148.4 874.3 L1148.4 870.9 L1148.4 867.5 L1148.5 864.0 L1148.5 860.6 L1148.6 857.2 L1148.6 853.8 L1148.7 850.4 L1148.7 846.9 L1148.8 843.5 L1148.8 840.1 L1148.8 836.7 L1148.9 833.3 L1148.9 829.8 L1149.0 826.4 L1149.0 823.0 L1149.1 819.6 L1149.1 816.2 L1149.1 812.7 L1149.2 809.3 L1149.2 805.9 L1149.2 802.5 L1149.3 799.0 L1149.3 795.6 L1149.3 792.2 L1149.4 788.8 L1149.4 785.4 L1149.4 781.9 L1149.5 778.5 L1149.5 775.1 L1149.5 771.7 L1149.6 768.2 L1149.6 764.8 L1149.6 761.4 L1149.7 758.0 L1149.7 754.5 L1149.8 751.1 L1149.9 747.7 L1150.0 744.3 L1150.1 740.9 L1150.2 737.4 L1150.4 734.0 L1150.6 730.6 L1150.9 727.2 L1151.2 723.8 L1151.5 720.4 L1151.9 717.0 L1152.4 713.6 L1152.9 710.3 L1153.4 706.9 L1153.9 703.5 L1154.5 700.1 L1155.1 696.8 L1155.7 693.4 L1156.4 690.0 L1157.0 686.6 L1157.7 683.3 L1158.4 679.9 L1159.1 676.6 L1159.8 673.2 L1160.5 669.9 L1161.3 666.5 L1162.1 663.2 L1162.9 659.9 L1163.8 656.5 L1164.7 653.2 L1165.6 649.9 L1166.6 646.7 L1167.6 643.4 L1168.7 640.2 L1169.9 636.9 L1171.1 633.7 L1172.3 630.6 L1173.6 627.4 L1175.0 624.2 L1176.4 621.1 L1177.9 618.0 L1179.4 614.9 L1181.0 611.9 L1182.6 608.8 L1184.3 605.8 L1186.0 602.8 L1187.8 599.9 L1189.6 597.0 L1191.5 594.1 L1193.4 591.2 L1195.4 588.4 L1197.5 585.7 L1199.6 583.0 L1201.8 580.4 L1204.0 577.9 L1206.4 575.4 L1208.8 573.0 L1211.2 570.7 L1213.8 568.4 L1216.4 566.3 L1219.1 564.2 L1221.9 562.2 L1224.7 560.3 L1227.6 558.5 L1230.5 556.7 L1233.5 555.0 L1236.5 553.3 L1239.5 551.7 L1242.6 550.1 L1245.7 548.6 L1248.8 547.1 L1251.9 545.7 L1255.0 544.3 L1258.2 543.0 L1261.3 541.6 L1264.5 540.4 L1267.8 539.2 L1271.0 538.0 L1274.2 536.9 L1277.5 535.8 L1280.7 534.7 L1284.0 533.7 L1287.3 532.8 L1290.6 531.9 L1293.9 531.0 L1297.2 530.2 L1300.6 529.4 L1303.9 528.6 L1307.3 527.9 L1310.6 527.2 L1314.0 526.5 L1317.3 525.8 L1320.0 525.3"/>
<path stroke-dasharray="35.40 47.04" stroke-dashoffset="-0.06" d="M1135.0 1461.5 L1135.8 1458.5 L1136.7 1455.4 L1137.5 1452.4 L1138.4 1449.4 L1139.2 1446.3 L1140.1 1443.3 L1140.9 1440.3 L1141.7 1437.2 L1142.6 1434.2 L1143.4 1431.2 L1144.3 1428.2 L1145.1 1425.1 L1145.9 1422.1 L1146.8 1419.0 L1147.6 1416.0 L1148.4 1413.0 L1149.2 1409.9 L1150.1 1406.9 L1150.9 1403.9 L1151.7 1400.8 L1152.5 1397.8 L1153.3 1394.8 L1154.1 1391.7 L1155.0 1388.7 L1155.8 1385.6 L1156.6 1382.6 L1157.4 1379.6 L1158.2 1376.5 L1159.0 1373.5 L1159.8 1370.4 L1160.6 1367.4 L1161.4 1364.3 L1162.2 1361.3 L1163.0 1358.3 L1163.8 1355.2 L1164.6 1352.2 L1165.4 1349.1 L1166.2 1346.1 L1167.1 1343.1 L1167.9 1340.0 L1168.8 1337.0 L1169.6 1334.0 L1170.5 1331.0 L1171.4 1327.9 L1172.2 1324.9 L1173.1 1321.9 L1174.0 1318.9 L1174.8 1315.8 L1175.7 1312.8 L1176.5 1309.8 L1177.4 1306.7 L1178.2 1303.7 L1179.0 1300.7 L1179.8 1297.6 L1180.6 1294.6 L1181.4 1291.6 L1182.2 1288.5 L1183.0 1285.5 L1183.8 1282.4 L1184.7 1279.4 L1185.5 1276.4 L1186.3 1273.3 L1187.1 1270.3 L1187.9 1267.2 L1188.8 1264.2 L1189.7 1261.2 L1190.5 1258.2 L1191.4 1255.2 L1192.3 1252.1 L1193.2 1249.1 L1194.1 1246.1 L1195.0 1243.1 L1195.9 1240.1 L1196.8 1237.1 L1197.7 1234.0 L1198.6 1231.0 L1199.5 1228.0 L1200.4 1225.0 L1201.3 1222.0 L1202.1 1219.0 L1203.0 1215.9 L1203.9 1212.9 L1204.7 1209.9 L1205.6 1206.8 L1206.4 1203.8 L1207.2 1200.8 L1208.1 1197.8 L1208.9 1194.7 L1209.7 1191.7 L1210.6 1188.7 L1211.4 1185.6 L1212.3 1182.6 L1213.1 1179.6 L1213.9 1176.5 L1214.8 1173.5 L1215.6 1170.5 L1216.4 1167.4 L1217.3 1164.4 L1218.1 1161.4 L1218.9 1158.3 L1219.8 1155.3 L1220.6 1152.3 L1221.4 1149.2 L1222.3 1146.2 L1223.1 1143.2 L1224.0 1140.1 L1224.8 1137.1 L1225.6 1134.1 L1226.5 1131.0 L1227.3 1128.0 L1228.2 1125.0 L1229.0 1121.9 L1229.9 1118.9 L1230.7 1115.9 L1231.6 1112.8 L1232.4 1109.8 L1233.3 1106.8 L1234.2 1103.8 L1235.1 1100.8 L1236.0 1097.7 L1236.9 1094.7 L1237.8 1091.7 L1238.7 1088.7 L1239.6 1085.7 L1240.5 1082.7 L1241.5 1079.7 L1242.4 1076.7 L1243.3 1073.7 L1244.3 1070.7 L1245.3 1067.7 L1246.2 1064.7 L1247.2 1061.7 L1248.2 1058.7 L1249.1 1055.7 L1250.1 1052.7 L1251.1 1049.7 L1252.1 1046.8 L1253.1 1043.8 L1254.2 1040.8 L1255.2 1037.8 L1256.2 1034.8 L1257.2 1031.9 L1258.2 1028.9 L1259.3 1025.9 L1260.3 1022.9 L1261.3 1020.0 L1262.4 1017.0 L1263.4 1014.0 L1264.5 1011.1 L1265.5 1008.1 L1266.6 1005.2 L1267.7 1002.2 L1268.8 999.3 L1269.9 996.3 L1271.0 993.4 L1272.2 990.4 L1273.3 987.5 L1274.5 984.6 L1275.6 981.7 L1276.8 978.7 L1278.0 975.8 L1279.2 972.9 L1280.5 970.1 L1281.7 967.2 L1283.0 964.3 L1284.3 961.4 L1285.6 958.6 L1286.9 955.7 L1288.2 952.8 L1289.6 950.0 L1290.9 947.2 L1292.3 944.3 L1293.7 941.5 L1295.1 938.7 L1296.5 935.9 L1297.9 933.1 L1299.4 930.3 L1300.8 927.5 L1302.2 924.7 L1303.7 921.9 L1305.2 919.1 L1306.6 916.3 L1308.1 913.5 L1309.6 910.7 L1311.0 908.0 L1312.5 905.2 L1314.0 902.4 L1315.5 899.6 L1317.0 896.9 L1318.5 894.1 L1320.0 891.3 L1321.5 888.6 L1323.0 885.8 L1324.5 883.1 L1326.0 880.3 L1327.6 877.6 L1329.1 874.8 L1330.7 872.1 L1332.3 869.4 L1333.8 866.6 L1335.4 863.9 L1337.0 861.2 L1338.6 858.5 L1340.2 855.8 L1341.9 853.1 L1343.5 850.4 L1345.1 847.7 L1346.8 845.1 L1348.5 842.4 L1350.2 839.8 L1351.9 837.1 L1353.6 834.5 L1355.3 831.8 L1357.1 829.2 L1358.8 826.6 L1360.6 824.0 L1362.3 821.4 L1364.1 818.8 L1365.9 816.2 L1367.8 813.7 L1369.6 811.1 L1371.4 808.6 L1373.3 806.0 L1375.2 803.5 L1377.0 801.0 L1378.9 798.4 L1380.8 795.9 L1382.8 793.5 L1384.7 791.0 L1386.6 788.5 L1388.6 786.0 L1390.6 783.6 L1392.5 781.1 L1394.5 778.7 L1396.6 776.3 L1398.6 773.9 L1400.6 771.5 L1402.7 769.1 L1404.7 766.7 L1406.8 764.3 L1408.9 762.0 L1411.0 759.6 L1413.1 757.3 L1415.2 755.0 L1417.4 752.7 L1419.6 750.4 L1421.7 748.1 L1423.9 745.9 L1426.2 743.6 L1428.4 741.4 L1430.6 739.2 L1432.9 737.0 L1435.2 734.9 L1437.5 732.7 L1439.8 730.6 L1442.2 728.5 L1444.6 726.4 L1447.0 724.4 L1449.4 722.4 L1451.8 720.4 L1454.3 718.5 L1456.8 716.5 L1459.3 714.6 L1461.8 712.8 L1464.4 711.0 L1467.0 709.2 L1469.6 707.4 L1472.2 705.7 L1474.8 703.9 L1477.5 702.3 L1480.2 700.6 L1482.8 699.0 L1485.5 697.3 L1488.3 695.7 L1491.0 694.2 L1493.7 692.6 L1496.5 691.1 L1499.2 689.6 L1502.0 688.1 L1504.8 686.6 L1507.6 685.2 L1510.4 683.8 L1513.3 682.4 L1516.1 681.1 L1519.0 679.8 L1521.8 678.5 L1524.7 677.2 L1527.6 676.0 L1530.5 674.8 L1533.4 673.6 L1536.4 672.5 L1539.3 671.4 L1542.3 670.3 L1545.2 669.2 L1548.2 668.2 L1551.2 667.2 L1554.2 666.1 L1557.1 665.1 L1560.1 664.1 L1562.5 663.3"/>
<path stroke-dasharray="35.40 47.09" stroke-dashoffset="-0.06" d="M1135.0 1461.5 L1137.0 1459.1 L1139.1 1456.7 L1141.1 1454.3 L1143.1 1451.9 L1145.2 1449.5 L1147.2 1447.1 L1149.3 1444.7 L1151.3 1442.3 L1153.3 1439.9 L1155.4 1437.5 L1157.4 1435.1 L1159.5 1432.7 L1161.5 1430.3 L1163.6 1427.9 L1165.6 1425.5 L1167.7 1423.1 L1169.7 1420.7 L1171.8 1418.3 L1173.8 1415.9 L1175.9 1413.5 L1178.0 1411.2 L1180.0 1408.8 L1182.1 1406.4 L1184.2 1404.0 L1186.2 1401.7 L1188.3 1399.3 L1190.4 1396.9 L1192.5 1394.6 L1194.6 1392.2 L1196.7 1389.8 L1198.7 1387.5 L1200.8 1385.1 L1202.9 1382.8 L1205.0 1380.4 L1207.1 1378.0 L1209.1 1375.6 L1211.2 1373.2 L1213.2 1370.8 L1215.3 1368.4 L1217.3 1366.0 L1219.3 1363.6 L1221.3 1361.2 L1223.4 1358.8 L1225.4 1356.4 L1227.4 1353.9 L1229.4 1351.5 L1231.4 1349.1 L1233.4 1346.7 L1235.5 1344.3 L1237.5 1341.8 L1239.5 1339.4 L1241.5 1337.0 L1243.6 1334.6 L1245.6 1332.2 L1247.7 1329.9 L1249.8 1327.5 L1251.8 1325.1 L1253.9 1322.7 L1256.0 1320.4 L1258.1 1318.0 L1260.2 1315.6 L1262.3 1313.3 L1264.4 1310.9 L1266.5 1308.6 L1268.6 1306.2 L1270.7 1303.9 L1272.8 1301.5 L1274.9 1299.2 L1277.0 1296.8 L1279.1 1294.5 L1281.2 1292.2 L1283.3 1289.8 L1285.4 1287.5 L1287.6 1285.2 L1289.7 1282.8 L1291.8 1280.5 L1294.0 1278.2 L1296.1 1275.9 L1298.3 1273.6 L1300.4 1271.3 L1302.6 1269.0 L1304.8 1266.7 L1306.9 1264.5 L1309.1 1262.2 L1311.3 1259.9 L1313.6 1257.7 L1315.8 1255.5 L1318.0 1253.3 L1320.3 1251.1 L1322.6 1248.9 L1324.9 1246.7 L1327.2 1244.6 L1329.5 1242.5 L1331.8 1240.4 L1334.2 1238.3 L1336.5 1236.2 L1338.9 1234.1 L1341.3 1232.1 L1343.7 1230.0 L1346.1 1228.0 L1348.5 1226.0 L1351.0 1224.0 L1353.4 1222.0 L1355.9 1220.0 L1358.3 1218.0 L1360.8 1216.0 L1363.3 1214.1 L1365.7 1212.1 L1368.2 1210.2 L1370.7 1208.3 L1373.2 1206.3 L1375.7 1204.4 L1378.2 1202.5 L1380.8 1200.6 L1383.3 1198.8 L1385.8 1196.9 L1388.4 1195.0 L1390.9 1193.2 L1393.5 1191.3 L1396.0 1189.5 L1398.6 1187.7 L1401.2 1185.9 L1403.8 1184.1 L1406.4 1182.3 L1409.0 1180.6 L1411.7 1178.8 L1414.3 1177.1 L1416.9 1175.4 L1419.6 1173.7 L1422.3 1172.0 L1425.0 1170.4 L1427.7 1168.8 L1430.4 1167.2 L1433.1 1165.6 L1435.8 1164.0 L1438.6 1162.5 L1441.3 1160.9 L1444.1 1159.4 L1446.8 1157.9 L1449.6 1156.4 L1452.4 1154.9 L1455.2 1153.4 L1458.0 1151.9 L1460.7 1150.5 L1463.5 1149.0 L1466.3 1147.6 L1469.1 1146.1 L1472.0 1144.7 L1474.8 1143.3 L1477.6 1141.9 L1480.4 1140.5 L1483.3 1139.1 L1486.1 1137.7 L1488.9 1136.4 L1491.8 1135.0 L1494.6 1133.7 L1497.5 1132.4 L1500.4 1131.1 L1503.3 1129.9 L1506.2 1128.6 L1509.0 1127.3 L1511.9 1126.1 L1514.8 1124.9 L1517.8 1123.6 L1520.7 1122.4 L1523.6 1121.2 L1526.5 1120.0 L1529.4 1118.8 L1532.3 1117.6 L1535.2 1116.4 L1538.1 1115.2 L1541.1 1114.0 L1544.0 1112.8 L1546.9 1111.7 L1549.8 1110.5 L1552.8 1109.3 L1555.7 1108.2 L1558.6 1107.0 L1561.6 1105.9 L1564.5 1104.8 L1567.5 1103.7 L1570.4 1102.7 L1573.4 1101.6 L1576.4 1100.6 L1579.4 1099.6 L1582.4 1098.6 L1585.4 1097.6 L1588.3 1096.6 L1591.3 1095.7 L1594.4 1094.7 L1597.4 1093.8 L1600.4 1092.8 L1603.4 1091.9 L1606.4 1090.9 L1609.4 1090.0 L1612.4 1089.0 L1615.4 1088.1 L1618.4 1087.2 L1621.4 1086.2 L1624.4 1085.3 L1627.4 1084.3 L1630.4 1083.3 L1633.4 1082.4 L1636.4 1081.4 L1639.4 1080.5 L1642.4 1079.5 L1645.4 1078.6 L1648.4 1077.6 L1651.4 1076.7 L1654.4 1075.7 L1657.5 1074.8 L1660.5 1073.8 L1663.5 1072.9 L1666.5 1071.9 L1669.5 1070.9 L1672.5 1070.0 L1675.5 1069.0 L1678.5 1068.0 L1681.5 1067.1 L1684.5 1066.1 L1687.5 1065.1 L1690.4 1064.1 L1693.4 1063.1 L1696.4 1062.1 L1699.4 1061.1 L1702.4 1060.0 L1705.4 1059.0 L1708.3 1057.9 L1711.3 1056.8 L1714.2 1055.7 L1717.2 1054.6 L1720.2 1053.5 L1723.1 1052.4 L1726.0 1051.2 L1729.0 1050.1 L1731.9 1048.9 L1734.8 1047.7 L1737.7 1046.4 L1740.6 1045.2 L1743.5 1043.9 L1746.4 1042.6 L1749.2 1041.2 L1752.1 1039.9 L1754.9 1038.4 L1757.7 1037.0 L1760.5 1035.5 L1763.2 1033.9 L1765.9 1032.3 L1768.6 1030.7 L1771.3 1029.0 L1773.9 1027.2 L1776.5 1025.4 L1779.1 1023.6 L1781.6 1021.7 L1784.1 1019.8 L1786.6 1017.8 L1789.0 1015.8 L1791.4 1013.7 L1793.7 1011.6 L1796.0 1009.4 L1798.2 1007.2 L1800.4 1004.9 L1802.5 1002.6 L1804.6 1000.2 L1806.6 997.8 L1808.6 995.4 L1810.5 992.9 L1812.4 990.3 L1814.2 987.8 L1816.0 985.1 L1817.7 982.5 L1819.4 979.8 L1821.0 977.1 L1822.6 974.4 L1824.1 971.6 L1825.5 968.8 L1826.9 966.0 L1828.2 963.1 L1829.5 960.2 L1830.8 957.3 L1832.0 954.4 L1833.1 951.5 L1834.2 948.5 L1835.2 945.5 L1836.2 942.5 L1837.2 939.5 L1838.1 936.5 L1838.9 933.4 L1839.7 930.4 L1840.5 927.3 L1841.2 924.3 L1841.9 921.2 L1842.6 918.1 L1843.2 915.0 L1843.8 911.9 L1844.4 908.8 L1845.0 905.7 L1845.5 902.6 L1846.1 899.5 L1846.5 897.0"/>
<path stroke-dasharray="35.40 47.09" stroke-dashoffset="0.12" d="M1135.0 1461.5 L1138.4 1461.0 L1141.8 1460.4 L1145.1 1459.9 L1148.5 1459.4 L1151.9 1458.8 L1155.3 1458.3 L1158.6 1457.8 L1162.0 1457.3 L1165.4 1456.8 L1168.8 1456.2 L1172.1 1455.7 L1175.5 1455.2 L1178.9 1454.7 L1182.3 1454.2 L1185.7 1453.7 L1189.0 1453.2 L1192.4 1452.8 L1195.8 1452.3 L1199.2 1451.8 L1202.6 1451.4 L1206.0 1450.9 L1209.3 1450.5 L1212.7 1450.0 L1216.1 1449.6 L1219.5 1449.2 L1222.9 1448.7 L1226.3 1448.3 L1229.7 1447.9 L1233.1 1447.5 L1236.5 1447.2 L1239.9 1446.8 L1243.3 1446.4 L1246.7 1446.0 L1250.0 1445.6 L1253.4 1445.2 L1256.8 1444.8 L1260.2 1444.5 L1263.6 1444.1 L1267.0 1443.7 L1270.4 1443.3 L1273.8 1442.9 L1277.2 1442.5 L1280.6 1442.1 L1284.0 1441.7 L1287.4 1441.2 L1290.8 1440.8 L1294.1 1440.4 L1297.5 1439.9 L1300.9 1439.5 L1304.3 1439.0 L1307.7 1438.6 L1311.1 1438.1 L1314.5 1437.7 L1317.9 1437.2 L1321.2 1436.8 L1324.6 1436.3 L1328.0 1435.9 L1331.4 1435.4 L1334.8 1435.0 L1338.2 1434.6 L1341.6 1434.2 L1345.0 1433.8 L1348.4 1433.4 L1351.7 1433.0 L1355.1 1432.6 L1358.5 1432.2 L1361.9 1431.9 L1365.3 1431.5 L1368.7 1431.1 L1372.1 1430.8 L1375.5 1430.4 L1378.9 1430.1 L1382.3 1429.7 L1385.7 1429.4 L1389.1 1429.0 L1392.5 1428.7 L1395.9 1428.3 L1399.3 1428.0 L1402.7 1427.6 L1406.1 1427.3 L1409.5 1426.9 L1412.9 1426.6 L1416.3 1426.2 L1419.7 1425.9 L1423.1 1425.5 L1426.5 1425.2 L1429.9 1424.9 L1433.3 1424.5 L1436.7 1424.2 L1440.1 1423.8 L1443.5 1423.5 L1446.9 1423.2 L1450.3 1422.8 L1453.7 1422.5 L1457.1 1422.2 L1460.5 1421.8 L1463.9 1421.5 L1467.3 1421.2 L1470.7 1420.9 L1474.1 1420.6 L1477.5 1420.3 L1480.9 1420.0 L1484.3 1419.8 L1487.7 1419.5 L1491.1 1419.3 L1494.5 1419.1 L1498.0 1418.9 L1501.4 1418.8 L1504.8 1418.6 L1508.2 1418.5 L1511.6 1418.5 L1515.0 1418.4 L1518.4 1418.4 L1521.9 1418.4 L1525.3 1418.4 L1528.7 1418.4 L1532.1 1418.5 L1535.5 1418.5 L1538.9 1418.6 L1542.4 1418.7 L1545.8 1418.8 L1549.2 1418.9 L1552.6 1419.1 L1556.0 1419.2 L1559.4 1419.3 L1562.8 1419.5 L1566.3 1419.7 L1569.7 1419.8 L1573.1 1420.0 L1576.5 1420.2 L1579.9 1420.4 L1583.3 1420.5 L1586.7 1420.7 L1590.1 1420.9 L1593.6 1421.0 L1597.0 1421.2 L1600.4 1421.4 L1603.8 1421.6 L1607.2 1421.8 L1610.6 1422.0 L1614.0 1422.2 L1617.4 1422.4 L1620.8 1422.6 L1624.2 1422.9 L1627.6 1423.1 L1631.1 1423.4 L1634.5 1423.7 L1637.9 1424.0 L1641.3 1424.3 L1644.7 1424.6 L1648.1 1424.9 L1651.5 1425.3 L1654.9 1425.6 L1658.3 1426.0 L1661.7 1426.3 L1665.1 1426.6 L1668.5 1427.0 L1671.9 1427.3 L1675.3 1427.7 L1678.7 1428.0 L1682.0 1428.4 L1685.4 1428.8 L1688.8 1429.1 L1692.2 1429.5 L1695.6 1429.9 L1699.0 1430.3 L1702.4 1430.7 L1705.8 1431.1 L1709.2 1431.5 L1712.6 1431.9 L1716.0 1432.3 L1719.4 1432.8 L1722.8 1433.2 L1726.1 1433.6 L1729.5 1434.1 L1732.9 1434.5 L1736.3 1435.0 L1739.7 1435.4 L1743.1 1435.8 L1746.5 1436.2 L1749.9 1436.6 L1753.3 1437.0 L1756.7 1437.3 L1760.1 1437.7 L1763.5 1438.1 L1766.9 1438.4 L1770.2 1438.8 L1773.6 1439.1 L1777.0 1439.5 L1780.4 1439.9 L1783.8 1440.2 L1787.2 1440.6 L1790.6 1441.0 L1794.0 1441.4 L1797.4 1441.8 L1800.8 1442.3 L1804.2 1442.7 L1807.6 1443.1 L1811.0 1443.6 L1814.3 1444.0 L1817.7 1444.4 L1821.1 1444.9 L1824.5 1445.3 L1827.9 1445.7 L1831.3 1446.1 L1834.7 1446.5 L1838.1 1446.8 L1841.5 1447.2 L1844.9 1447.6 L1848.3 1447.9 L1851.7 1448.2 L1855.1 1448.6 L1858.5 1448.9 L1861.9 1449.2 L1865.3 1449.5 L1868.7 1449.8 L1872.1 1450.1 L1875.5 1450.4 L1878.9 1450.6 L1882.3 1450.9 L1885.7 1451.2 L1889.1 1451.4 L1892.6 1451.6 L1896.0 1451.9 L1899.4 1452.1 L1902.8 1452.2 L1906.2 1452.4 L1909.7 1452.5 L1913.1 1452.6 L1916.5 1452.7 L1919.9 1452.7 L1923.4 1452.7 L1926.8 1452.7 L1930.2 1452.6 L1933.7 1452.5 L1937.1 1452.3 L1940.5 1452.1 L1943.9 1451.8 L1947.3 1451.5 L1950.7 1451.1 L1954.1 1450.6 L1957.5 1450.1 L1960.9 1449.5 L1964.2 1448.8 L1967.6 1448.0 L1970.9 1447.1 L1974.2 1446.2 L1977.4 1445.2 L1980.7 1444.0 L1983.9 1442.8 L1987.0 1441.5 L1990.1 1440.0 L1993.1 1438.5 L1996.1 1436.8 L1999.1 1435.1 L2001.9 1433.2 L2004.7 1431.3 L2007.5 1429.2 L2010.1 1427.1 L2012.7 1424.8 L2015.3 1422.5 L2017.7 1420.1 L2020.0 1417.6 L2022.3 1415.1 L2024.5 1412.4 L2026.5 1409.7 L2028.5 1407.0 L2030.4 1404.1 L2032.2 1401.2 L2033.9 1398.3 L2035.6 1395.3 L2037.1 1392.2 L2038.6 1389.1 L2040.0 1386.0 L2041.4 1382.8 L2042.7 1379.6 L2043.9 1376.4 L2045.0 1373.2 L2046.1 1370.0 L2047.2 1366.7 L2048.1 1363.4 L2049.1 1360.1 L2049.9 1356.8 L2050.8 1353.5 L2051.5 1350.1 L2052.3 1346.8 L2053.0 1343.4 L2053.6 1340.0 L2054.2 1336.7 L2054.8 1333.3 L2055.3 1329.9 L2055.8 1326.5 L2056.2 1323.1 L2056.7 1319.7 L2057.1 1316.3 L2057.4 1312.9 L2057.8 1309.5 L2058.2 1306.1 L2058.5 1302.7 L2058.8 1300.0"/>
</g>
<path fill="none" stroke="#000" stroke-width="13.00" stroke-linejoin="round" stroke-linecap="butt" d="M180.8 1461.5 L181.0 1456.6 L181.2 1451.7 L181.4 1446.8 L181.7 1441.9 L181.9 1437.0 L182.1 1432.1 L182.3 1427.2 L182.5 1422.2 L182.7 1417.3 L183.0 1412.4 L183.2 1407.5 L183.4 1402.6 L183.6 1397.7 L183.8 1392.8 L184.0 1387.9 L184.2 1383.0 L184.5 1378.1 L184.7 1373.2 L184.9 1368.3 L185.1 1363.4 L185.3 1358.5 L185.6 1353.6 L185.8 1348.7 L186.0 1343.8 L186.2 1338.8 L186.4 1333.9 L186.6 1329.0 L186.9 1324.1 L187.1 1319.2 L187.3 1314.3 L187.5 1309.4 L187.8 1304.5 L188.0 1299.6 L188.2 1294.7 L188.4 1289.8 L188.6 1284.9 L188.9 1280.0 L189.1 1275.1 L189.3 1270.2 L189.5 1265.3 L189.8 1260.3 L190.0 1255.4 L190.2 1250.5 L190.4 1245.6 L190.7 1240.7 L190.9 1235.8 L191.1 1230.9 L191.3 1226.0 L191.6 1221.1 L191.8 1216.2 L192.0 1211.3 L192.3 1206.4 L192.5 1201.5 L192.7 1196.6 L192.9 1191.7 L193.2 1186.8 L193.4 1181.9 L193.6 1177.0 L193.9 1172.0 L194.1 1167.1 L194.3 1162.2 L194.6 1157.3 L194.8 1152.4 L195.0 1147.5 L195.2 1142.6 L195.5 1137.7 L195.7 1132.8 L195.9 1127.9 L196.2 1123.0 L196.4 1118.1 L196.6 1113.2 L196.9 1108.3 L197.1 1103.4 L197.3 1098.5 L197.6 1093.6 L197.8 1088.7 L198.0 1083.7 L198.2 1078.8 L198.5 1073.9 L198.7 1069.0 L198.9 1064.1 L199.2 1059.2 L199.4 1054.3 L199.6 1049.4 L199.9 1044.5 L200.1 1039.6 L200.3 1034.7 L200.5 1029.8 L200.8 1024.9 L201.0 1020.0 L201.2 1015.1 L201.5 1010.2 L201.7 1005.3 L201.9 1000.4 L202.1 995.4 L202.4 990.5 L202.6 985.6 L202.8 980.7 L203.0 975.8 L203.2 970.9 L203.5 966.0 L203.7 961.1 L203.9 956.2 L204.1 951.3 L204.3 946.4 L204.5 941.5 L204.7 936.6 L205.0 931.7 L205.2 926.8 L205.4 921.9 L205.6 916.9 L205.8 912.0 L206.0 907.1 L206.2 902.2 L206.4 897.3 L206.6 892.4 L206.8 887.5 L207.0 882.6 L207.2 877.7 L207.4 872.8 L207.6 867.9 L207.8 863.0 L208.0 858.1 L208.2 853.2 L208.4 848.2 L208.6 843.3 L208.8 838.4 L209.1 833.5 L209.3 828.6 L209.5 823.7 L209.7 818.8 L209.9 813.9 L210.1 809.0 L210.3 804.1 L210.5 799.2 L210.8 794.3 L211.0 789.4 L211.2 784.5 L211.4 779.6 L211.7 774.6 L211.9 769.7 L212.1 764.8 L212.4 759.9 L212.6 755.0 L212.9 750.1 L213.1 745.2 L213.4 740.3 L213.6 735.4 L213.9 730.5 L214.2 725.6 L214.5 720.7 L214.7 715.8 L215.0 710.9 L215.3 706.0 L215.6 701.1 L215.9 696.2 L216.2 691.3 L216.5 686.4 L216.8 681.5 L217.1 676.6 L217.4 671.7 L217.8 666.8 L218.1 661.9 L218.4 657.0 L218.8 652.1 L219.1 647.2 L219.5 642.3 L219.8 637.4 L220.2 632.5 L220.6 627.6 L220.9 622.7 L221.3 617.8 L221.7 612.9 L222.1 608.0 L222.5 603.1 L222.9 598.2 L223.3 593.3 L223.7 588.4 L224.2 583.6 L224.6 578.7 L225.0 573.8 L225.5 568.9 L225.9 564.0 L226.4 559.1 L226.8 554.2 L227.3 549.3 L227.8 544.4 L228.2 539.5 L228.7 534.6 L229.3 529.7 L229.8 524.8 L230.4 520.0 L231.0 515.1 L231.7 510.2 L232.5 505.4 L233.3 500.5 L234.3 495.7 L235.3 490.9 L236.5 486.1 L237.8 481.4 L239.2 476.7 L240.8 472.1 L242.6 467.5 L244.5 463.0 L246.6 458.6 L248.8 454.3 L251.3 450.0 L253.9 445.9 L256.6 441.8 L259.5 437.9 L262.5 434.0 L265.7 430.3 L269.0 426.6 L272.4 423.0 L275.9 419.6 L279.4 416.2 L283.1 412.9 L286.8 409.6 L290.6 406.5 L294.4 403.4 L298.3 400.4 L302.3 397.4 L306.3 394.6 L310.3 391.8 L314.5 389.1 L318.6 386.4 L322.8 383.9 L327.1 381.5 L331.4 379.1 L335.8 376.9 L340.2 374.7 L344.6 372.7 L349.1 370.7 L353.7 368.9 L358.3 367.1 L362.9 365.5 L367.5 363.9 L372.2 362.4 L376.9 361.0 L381.6 359.6 L386.4 358.4 L391.1 357.2 L395.9 356.0 L400.7 355.0 L405.5 353.9 L410.3 353.0 L415.2 352.1 L420.0 351.2 L424.8 350.4 L429.7 349.6 L434.6 348.9 L439.4 348.2 L444.3 347.5 L449.2 346.9 L454.0 346.3 L458.9 345.7 L463.8 345.2 L468.7 344.7 L473.6 344.2 L478.5 343.7 L483.4 343.3 L488.3 342.9 L493.2 342.4 L498.1 342.1 L503.0 341.7 L507.9 341.3 L512.8 341.0 L517.7 340.6 L522.6 340.3 L527.5 340.0 L532.4 339.7 L537.3 339.4 L542.2 339.1 L547.1 338.9 L552.0 338.6 L556.9 338.4 L561.8 338.1 L566.7 337.9 L571.6 337.7 L576.6 337.5 L581.5 337.4 L586.4 337.2 L591.3 337.1 L596.2 336.9 L601.1 336.8 L606.0 336.7 L610.9 336.6 L615.8 336.5 L620.7 336.5 L625.7 336.4 L630.6 336.4 L635.5 336.4 L640.4 336.4 L645.3 336.5 L650.2 336.5 L655.1 336.6 L660.0 336.7 L664.9 336.8 L669.8 336.9 L674.8 337.0 L679.7 337.2 L684.6 337.4 L689.5 337.6 L694.4 337.9 L699.3 338.1 L704.2 338.4 L709.1 338.7 L714.0 339.0 L718.9 339.3 L723.8 339.7 L728.7 340.1 L733.6 340.5 L738.5 340.9 L743.4 341.4 L748.2 341.8 L753.1 342.3 L758.0 342.8 L762.9 343.4 L767.8 343.9 L772.7 344.5 L777.5 345.1 L782.4 345.7 L787.3 346.3 L792.1 347.0 L797.0 347.7 L801.9 348.3 L806.7 349.0 L811.6 349.8 L816.4 350.5 L821.3 351.3 L826.1 352.1 L831.0 352.9 L835.8 353.8 L840.6 354.6 L845.5 355.5 L850.3 356.5 L855.1 357.4 L859.9 358.4 L864.7 359.4 L869.5 360.4 L874.3 361.5 L879.1 362.5 L883.9 363.6 L888.7 364.7 L893.4 365.9 L898.2 367.0 L903.0 368.2 L907.8 369.3 L912.5 370.5 L917.3 371.7 L922.1 372.9 L926.8 374.2 L931.6 375.4 L936.3 376.6 L941.1 377.9 L945.8 379.1 L950.6 380.4 L955.3 381.7 L960.1 382.9 L964.8 384.2 L969.5 385.5 L974.3 386.8 L979.0 388.1 L983.8 389.4 L988.5 390.7 L993.2 391.9 L998.0 393.2 L1002.7 394.5 L1007.5 395.8 L1012.2 397.1 L1016.9 398.4 L1021.7 399.7 L1026.4 401.0 L1031.2 402.2 L1035.9 403.5 L1040.6 404.8 L1045.4 406.1 L1050.1 407.4 L1054.9 408.7 L1059.6 409.9 L1064.4 411.2 L1069.1 412.5 L1073.8 413.8 L1078.6 415.1 L1083.3 416.3 L1088.1 417.6 L1092.8 418.9 L1097.5 420.2 L1102.3 421.5 L1107.0 422.8 L1111.7 424.1 L1116.5 425.5 L1121.2 426.8 L1125.9 428.2 L1130.6 429.5 L1135.3 430.9 L1140.1 432.3 L1144.8 433.6 L1149.5 435.1 L1154.2 436.5 L1158.9 437.9 L1163.6 439.4 L1168.2 440.8 L1172.9 442.3 L1177.6 443.8 L1182.3 445.3 L1186.9 446.9 L1191.6 448.4 L1196.2 450.0 L1200.9 451.6 L1205.5 453.2 L1210.2 454.8 L1214.8 456.5 L1219.4 458.2 L1224.0 459.9 L1228.6 461.6 L1233.2 463.3 L1237.8 465.0 L1242.4 466.8 L1247.0 468.6 L1251.5 470.4 L1256.1 472.2 L1260.6 474.0 L1265.2 475.9 L1269.7 477.7 L1274.3 479.6 L1278.8 481.5 L1283.3 483.4 L1287.8 485.4 L1292.3 487.3 L1296.8 489.3 L1301.3 491.3 L1305.8 493.2 L1310.3 495.2 L1314.8 497.3 L1319.3 499.3 L1323.7 501.3 L1328.2 503.4 L1332.6 505.5 L1337.1 507.5 L1341.5 509.6 L1346.0 511.7 L1350.4 513.8 L1354.9 516.0 L1359.3 518.1 L1363.7 520.2 L1368.1 522.4 L1372.5 524.5 L1377.0 526.7 L1381.4 528.8 L1385.8 531.0 L1390.2 533.2 L1394.6 535.4 L1399.0 537.5 L1403.4 539.7 L1407.8 541.9 L1412.2 544.1 L1416.5 546.3 L1420.9 548.6 L1425.3 550.8 L1429.7 553.0 L1434.0 555.3 L1438.4 557.6 L1442.7 559.9 L1447.1 562.2 L1451.4 564.5 L1455.7 566.8 L1460.0 569.2 L1464.3 571.6 L1468.6 574.0 L1472.9 576.4 L1477.1 578.8 L1481.4 581.3 L1485.6 583.7 L1489.9 586.2 L1494.1 588.7 L1498.3 591.2 L1502.5 593.8 L1506.7 596.3 L1510.9 598.9 L1515.1 601.5 L1519.2 604.1 L1523.4 606.7 L1527.5 609.4 L1531.7 612.0 L1535.8 614.7 L1539.9 617.4 L1544.0 620.1 L1548.1 622.8 L1552.1 625.5 L1556.2 628.3 L1560.3 631.1 L1564.3 633.9 L1568.3 636.7 L1572.3 639.5 L1576.3 642.3 L1580.3 645.2 L1584.3 648.1 L1588.3 651.0 L1592.3 653.9 L1596.2 656.8 L1600.2 659.7 L1604.1 662.6 L1608.0 665.6 L1611.9 668.6 L1615.8 671.5 L1619.7 674.5 L1623.6 677.5 L1627.5 680.5 L1631.4 683.6 L1635.3 686.6 L1639.1 689.6 L1643.0 692.7 L1646.8 695.7 L1650.7 698.8 L1654.5 701.9 L1658.3 704.9 L1662.1 708.0 L1665.9 711.1 L1669.7 714.3 L1673.5 717.4 L1677.3 720.5 L1681.1 723.7 L1684.8 726.8 L1688.5 730.0 L1692.3 733.2 L1696.0 736.5 L1699.7 739.7 L1703.3 742.9 L1707.0 746.2 L1710.6 749.5 L1714.3 752.8 L1717.9 756.1 L1721.5 759.5 L1725.1 762.8 L1728.6 766.2 L1732.2 769.6 L1735.8 773.0 L1739.3 776.4 L1742.8 779.8 L1746.4 783.2 L1749.9 786.6 L1753.4 790.0 L1756.9 793.5 L1760.5 796.9 L1764.0 800.3 L1767.5 803.8 L1770.9 807.3 L1774.4 810.7 L1777.9 814.2 L1781.4 817.7 L1784.8 821.2 L1788.2 824.7 L1791.6 828.3 L1795.0 831.8 L1798.4 835.4 L1801.8 839.0 L1805.1 842.6 L1808.4 846.2 L1811.7 849.8 L1814.9 853.5 L1818.2 857.2 L1821.3 860.9 L1824.5 864.7 L1827.6 868.5 L1830.7 872.3 L1833.8 876.1 L1836.8 880.0 L1839.8 883.9 L1842.8 887.8 L1845.8 891.7 L1848.7 895.6 L1851.5 899.6 L1854.4 903.6 L1857.2 907.6 L1860.0 911.7 L1862.8 915.7 L1865.5 919.8 L1868.2 923.9 L1870.9 928.0 L1873.6 932.1 L1876.3 936.2 L1878.9 940.4 L1881.6 944.5 L1884.2 948.7 L1886.8 952.9 L1889.4 957.0 L1892.0 961.2 L1894.6 965.4 L1897.1 969.6 L1899.7 973.8 L1902.3 978.0 L1904.8 982.2 L1907.4 986.4 L1909.9 990.6 L1912.4 994.8 L1914.9 999.0 L1917.4 1003.2 L1919.9 1007.5 L1922.4 1011.7 L1924.8 1016.0 L1927.3 1020.2 L1929.7 1024.5 L1932.2 1028.7 L1934.6 1033.0 L1937.0 1037.3 L1939.4 1041.6 L1941.8 1045.9 L1944.1 1050.2 L1946.5 1054.5 L1948.9 1058.8 L1951.2 1063.1 L1953.6 1067.4 L1955.9 1071.7 L1958.2 1076.1 L1960.5 1080.4 L1962.9 1084.7 L1965.2 1089.0 L1967.5 1093.4 L1969.8 1097.7 L1972.1 1102.1 L1974.4 1106.4 L1976.7 1110.7 L1979.0 1115.1 L1981.2 1119.4 L1983.5 1123.8 L1985.8 1128.1 L1988.0 1132.5 L1990.3 1136.9 L1992.6 1141.2 L1994.8 1145.6 L1997.0 1150.0 L1999.3 1154.3 L2001.5 1158.7 L2003.7 1163.1 L2005.9 1167.5 L2008.1 1171.9 L2010.3 1176.3 L2012.5 1180.7 L2014.7 1185.1 L2016.9 1189.5 L2019.1 1193.9 L2021.2 1198.3 L2023.4 1202.7 L2025.5 1207.1 L2027.6 1211.5 L2029.8 1216.0 L2031.9 1220.4 L2034.0 1224.8 L2036.1 1229.3 L2038.2 1233.7 L2040.2 1238.2 L2042.3 1242.7 L2044.4 1247.1 L2046.4 1251.6 L2048.5 1256.0 L2050.5 1260.5 L2052.5 1265.0 L2054.6 1269.5 L2056.6 1273.9 L2058.6 1278.4 L2060.5 1282.9 L2062.5 1287.4 L2064.3 1292.0 L2066.1 1296.6 L2067.7 1301.2 L2069.3 1305.8 L2070.8 1310.5 L2072.2 1315.2 L2073.4 1319.9 L2074.7 1324.7 L2075.8 1329.5 L2076.8 1334.3 L2077.8 1339.1 L2078.6 1343.9 L2079.4 1348.7 L2080.2 1353.6 L2080.8 1358.5 L2081.4 1363.3 L2081.9 1368.2 L2082.3 1373.1 L2082.7 1378.0 L2083.0 1382.9 L2083.2 1387.8 L2083.4 1392.7 L2083.6 1397.6 L2083.7 1402.6 L2083.8 1407.5 L2083.8 1412.4 L2083.9 1417.3 L2084.0 1422.2 L2084.0 1427.1 L2084.1 1432.0 L2084.1 1436.9 L2084.2 1441.9 L2084.2 1446.8 L2084.3 1451.7 L2084.3 1456.6 L2084.4 1461.5"/>
<path fill="none" stroke="#000" stroke-width="13.5" stroke-linecap="round" d="M1588.5 307.5 H1735.5"/>
</svg>
</body></html>
